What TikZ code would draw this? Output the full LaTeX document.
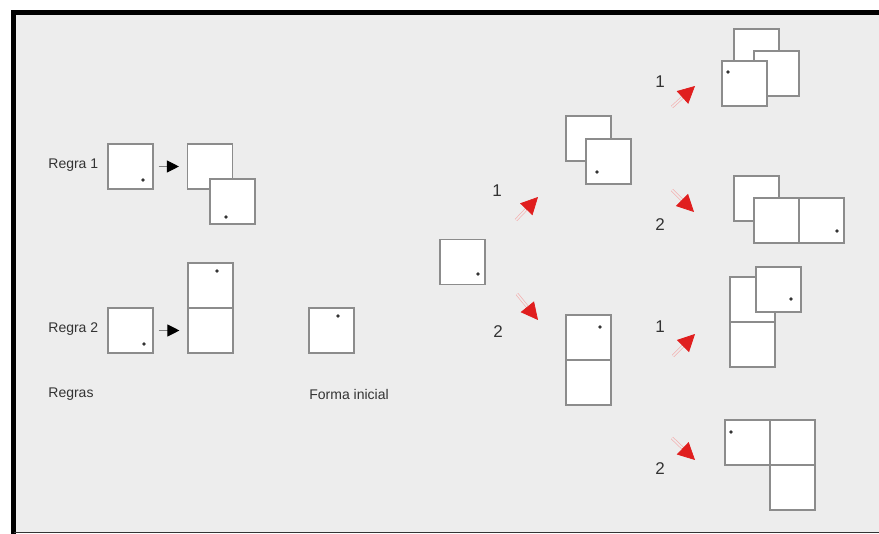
\documentclass[tikz,border=0pt]{standalone}
\usepackage{fontspec}
\setmainfont{Liberation Sans}
\usetikzlibrary{arrows.meta}
\definecolor{Panel}{HTML}{EDEDED}
\definecolor{Edge}{HTML}{8C8C8C}
\definecolor{Ink}{HTML}{333333}
\definecolor{Mark}{HTML}{E01E1E}

\begin{document}
\begin{tikzpicture}[x=0.5pt,y=-0.5pt,font=\fontsize{7}{8}\selectfont,
    cell/.style={draw=Edge,fill=white,line width=0.55pt,minimum size=22.5pt,inner sep=0pt},
    lbl/.style={text=Ink,anchor=west,inner sep=0pt},
    num/.style={text=Ink,font=\fontsize{8.5}{10}\selectfont,inner sep=0pt},
    rulearrow/.style={draw=gray,line width=0.5pt,
      -{Triangle[length=6pt,width=6pt,black]},shorten <=2.5pt,shorten >=4pt},
    genarrow/.style={draw=Mark!35,double=Panel,double distance=0.8pt,line width=0.35pt,
      -{Triangle[length=8.5pt,width=8.5pt,Mark]}}]
    \useasboundingbox (0,0) rectangle (879,534);
    \fill[white] (0,0) rectangle (879,534);
    \fill[Panel] (14,12) rectangle (879,532);
    \draw[line width=2.5pt] (13.5,534) -- (13.5,12.5) -- (879,12.5);
    \draw[Ink,line width=0.6pt] (14,532.5) -- (879,532.5);

    % rules
    \node[lbl] (lr1) at (48,165) {Regra 1};
    \node[cell] (r1in) at (130.5,166.5) {};
    \node[cell] (r1outa) at (210,166.5) {};
    \node[cell] (r1outb) at (232.5,201.5) {};
    \draw[rulearrow] (r1in) -- (r1outa);

    \node[lbl] (lr2) at (48,329) {Regra 2};
    \node[cell] (r2in) at (130.5,330.5) {};
    \node[cell] (r2outa) at (210.5,285.5) {};
    \node[cell] (r2outb) at (210.5,330.5) {};
    \draw[rulearrow] (r2in) -- (r2outb);

    \node[lbl] (regras) at (48,394) {Regras};

    % initial shape
    \node[cell] (fi) at (331.5,330.5) {};
    \node[lbl] (forma) at (309,394) {Forma inicial};

    % first step
    \node[cell] (s0) at (462.5,262) {};
    \node[cell] (s1a) at (588.5,138.5) {};
    \node[cell] (s1b) at (608.5,161.5) {};
    \node[cell] (s2a) at (588.5,337.5) {};
    \node[cell] (s2b) at (588.5,382.5) {};

    % second step
    \node[cell] (s11a) at (756.5,51.5) {};
    \node[cell] (s11b) at (776.5,73.5) {};
    \node[cell] (s11c) at (744.5,83.5) {};
    \node[cell] (s12a) at (756.5,198.5) {};
    \node[cell] (s12b) at (776.5,220.5) {};
    \node[cell] (s12c) at (821.5,220.5) {};
    \node[cell] (s21a) at (752.5,299.5) {};
    \node[cell] (s21b) at (752.5,344.5) {};
    \node[cell] (s21c) at (778.5,289.5) {};
    \node[cell] (s22a) at (747.5,442.5) {};
    \node[cell] (s22b) at (792.5,442.5) {};
    \node[cell] (s22c) at (792.5,487.5) {};

    % markers
    \foreach \p in {(143,180),(226,217),(144,344),(217,271),(338,316),(478,274),
                    (597,172),(600,327),(728,72),(837,231),(791,299),(731,432)}
      \fill[Ink] \p circle[radius=0.9pt];

    % generation arrows
    \coordinate (t1) at (516,220); \coordinate (h1) at (538,197);
    \coordinate (t2) at (517,294); \coordinate (h2) at (538,320);
    \coordinate (t11) at (672,107); \coordinate (h11) at (695,86);
    \coordinate (t12) at (672,190); \coordinate (h12) at (694,212);
    \coordinate (t21) at (673,356); \coordinate (h21) at (695,334);
    \coordinate (t22) at (672,438); \coordinate (h22) at (695,460);
    \draw[genarrow] (t1) -- (h1);
    \draw[genarrow] (t2) -- (h2);
    \draw[genarrow] (t11) -- (h11);
    \draw[genarrow] (t12) -- (h12);
    \draw[genarrow] (t21) -- (h21);
    \draw[genarrow] (t22) -- (h22);

    \node[num] (n1) at (497,191) {1};
    \node[num] (n2) at (498,332) {2};
    \node[num] (n11) at (660,82) {1};
    \node[num] (n12) at (660,225) {2};
    \node[num] (n21) at (660,327) {1};
    \node[num] (n22) at (660,469) {2};
\end{tikzpicture}
\end{document}
